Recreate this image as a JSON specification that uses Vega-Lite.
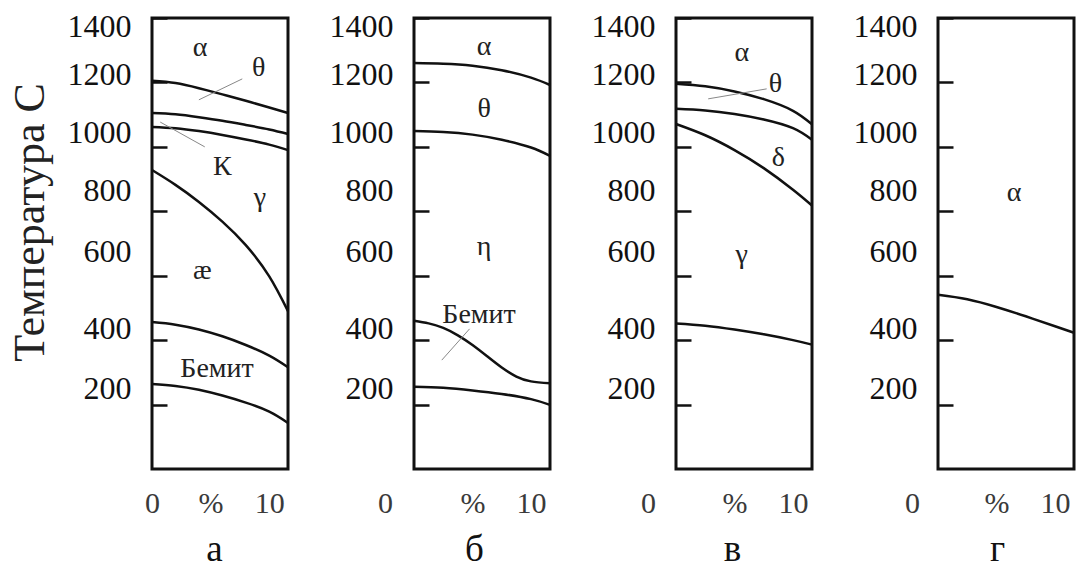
{
  "$schema": "https://vega.github.io/schema/vega-lite/v6.json",
  "background": "white",
  "padding": {"left": 6, "top": 8, "right": 0, "bottom": 0},
  "bounds": "flush",
  "spacing": 126,
  "config": {
    "font": "Liberation Serif",
    "view": {"stroke": "#111", "strokeWidth": 3},
    "axisY": {"tickSize": -15, "tickWidth": 2.5, "tickColor": "#111", "domain": false, "grid": false, "labelFontSize": 32, "labelColor": "#111", "labelPadding": 36, "format": "d", "titleFontSize": 44, "titleFontWeight": "normal", "titleColor": "#222"},
    "axisX": {"ticks": false, "domain": false, "grid": false, "labelFontSize": 30, "labelColor": "#3a3a3a", "labelPadding": 19, "labelFlush": false, "titleFontSize": 37, "titleFontWeight": "normal", "titleBaseline": "alphabetic", "titleY": 91, "titleColor": "#111"}
  },
  "datasets": {
    "lines": [
      {"p":"а","id":1,"x":0,"t":1205},{"p":"а","id":1,"x":2,"t":1198},{"p":"а","id":1,"x":4,"t":1182},{"p":"а","id":1,"x":6,"t":1163},{"p":"а","id":1,"x":8,"t":1143},{"p":"а","id":1,"x":10,"t":1122},{"p":"а","id":1,"x":11.6,"t":1105},
      {"p":"а","id":2,"x":0,"t":1105},{"p":"а","id":2,"x":2,"t":1101},{"p":"а","id":2,"x":4,"t":1092},{"p":"а","id":2,"x":6,"t":1081},{"p":"а","id":2,"x":8,"t":1068},{"p":"а","id":2,"x":10,"t":1054},{"p":"а","id":2,"x":11.6,"t":1040},
      {"p":"а","id":3,"x":0,"t":1062},{"p":"а","id":3,"x":2,"t":1058},{"p":"а","id":3,"x":4,"t":1049},{"p":"а","id":3,"x":6,"t":1037},{"p":"а","id":3,"x":8,"t":1023},{"p":"а","id":3,"x":10,"t":1007},{"p":"а","id":3,"x":11.6,"t":990},
      {"p":"а","id":4,"x":0,"t":928},{"p":"а","id":4,"x":2,"t":882},{"p":"а","id":4,"x":4,"t":829},{"p":"а","id":4,"x":6,"t":768},{"p":"а","id":4,"x":8,"t":695},{"p":"а","id":4,"x":10,"t":598},{"p":"а","id":4,"x":11.6,"t":490},
      {"p":"а","id":5,"x":0,"t":456},{"p":"а","id":5,"x":2,"t":448},{"p":"а","id":5,"x":4,"t":433},{"p":"а","id":5,"x":6,"t":412},{"p":"а","id":5,"x":8,"t":385},{"p":"а","id":5,"x":10,"t":352},{"p":"а","id":5,"x":11.6,"t":316},
      {"p":"а","id":6,"x":0,"t":264},{"p":"а","id":6,"x":2,"t":258},{"p":"а","id":6,"x":4,"t":246},{"p":"а","id":6,"x":6,"t":228},{"p":"а","id":6,"x":8,"t":206},{"p":"а","id":6,"x":10,"t":178},{"p":"а","id":6,"x":11.6,"t":143},
      {"p":"б","id":1,"x":2,"t":1260},{"p":"б","id":1,"x":4,"t":1258},{"p":"б","id":1,"x":6,"t":1252},{"p":"б","id":1,"x":8,"t":1238},{"p":"б","id":1,"x":10,"t":1215},{"p":"б","id":1,"x":11.3,"t":1192},
      {"p":"б","id":2,"x":2,"t":1049},{"p":"б","id":2,"x":4,"t":1046},{"p":"б","id":2,"x":6,"t":1038},{"p":"б","id":2,"x":8,"t":1022},{"p":"б","id":2,"x":10,"t":998},{"p":"б","id":2,"x":11.3,"t":972},
      {"p":"б","id":3,"x":2,"t":460},{"p":"б","id":3,"x":3,"t":452},{"p":"б","id":3,"x":4,"t":438},{"p":"б","id":3,"x":5,"t":415},{"p":"б","id":3,"x":6,"t":385},{"p":"б","id":3,"x":7,"t":350},{"p":"б","id":3,"x":8,"t":315},{"p":"б","id":3,"x":9,"t":287},{"p":"б","id":3,"x":10,"t":272},{"p":"б","id":3,"x":11.3,"t":266},
      {"p":"б","id":4,"x":2,"t":255},{"p":"б","id":4,"x":4,"t":252},{"p":"б","id":4,"x":6,"t":244},{"p":"б","id":4,"x":8,"t":233},{"p":"б","id":4,"x":10,"t":217},{"p":"б","id":4,"x":11.3,"t":199},
      {"p":"в","id":1,"x":2,"t":1196},{"p":"в","id":1,"x":4,"t":1188},{"p":"в","id":1,"x":6,"t":1172},{"p":"в","id":1,"x":8,"t":1148},{"p":"в","id":1,"x":10,"t":1112},{"p":"в","id":1,"x":11.3,"t":1070},
      {"p":"в","id":2,"x":2,"t":1118},{"p":"в","id":2,"x":4,"t":1113},{"p":"в","id":2,"x":6,"t":1102},{"p":"в","id":2,"x":8,"t":1085},{"p":"в","id":2,"x":10,"t":1058},{"p":"в","id":2,"x":11.3,"t":1022},
      {"p":"в","id":3,"x":2,"t":1071},{"p":"в","id":3,"x":4,"t":1036},{"p":"в","id":3,"x":6,"t":990},{"p":"в","id":3,"x":8,"t":934},{"p":"в","id":3,"x":10,"t":867},{"p":"в","id":3,"x":11.3,"t":818},
      {"p":"в","id":4,"x":2,"t":452},{"p":"в","id":4,"x":4,"t":445},{"p":"в","id":4,"x":6,"t":433},{"p":"в","id":4,"x":8,"t":418},{"p":"в","id":4,"x":10,"t":400},{"p":"в","id":4,"x":11.3,"t":386},
      {"p":"г","id":1,"x":2,"t":541},{"p":"г","id":1,"x":4,"t":527},{"p":"г","id":1,"x":6,"t":503},{"p":"г","id":1,"x":8,"t":474},{"p":"г","id":1,"x":10,"t":443},{"p":"г","id":1,"x":11.3,"t":423}
    ],
    "labels": [
      {"p":"а","x":4.1,"t":1307,"label":"α"},
      {"p":"а","x":9.1,"t":1245,"label":"θ"},
      {"p":"а","x":6.0,"t":938,"label":"К"},
      {"p":"а","x":9.2,"t":841,"label":"γ"},
      {"p":"а","x":4.3,"t":615,"label":"æ"},
      {"p":"а","x":5.55,"t":310,"label":"Бемит"},
      {"p":"б","x":6.8,"t":1310,"label":"α"},
      {"p":"б","x":6.8,"t":1118,"label":"θ"},
      {"p":"б","x":6.8,"t":689,"label":"η"},
      {"p":"б","x":6.45,"t":478,"label":"Бемит"},
      {"p":"в","x":6.5,"t":1292,"label":"α"},
      {"p":"в","x":8.8,"t":1195,"label":"θ"},
      {"p":"в","x":9.0,"t":966,"label":"δ"},
      {"p":"в","x":6.5,"t":664,"label":"γ"},
      {"p":"г","x":7.2,"t":857,"label":"α"}
    ],
    "leaders": [
      {"p":"а","x":7.7,"t":1211,"x2":4.0,"t2":1146},
      {"p":"а","x":0.7,"t":1077,"x2":4.5,"t2":1000},
      {"p":"б","x":5.8,"t":435,"x2":3.9,"t2":338},
      {"p":"в","x":8.2,"t":1180,"x2":4.2,"t2":1149}
    ]
  },
  "hconcat": [
    {
      "width": 136, "height": 451,
      "layer": [
        {"data": {"name": "lines"}, "transform": [{"filter": "datum.p == 'а'"}],
         "mark": {"type": "line", "color": "#111", "strokeWidth": 2.5, "interpolate": "natural"},
         "encoding": {
           "x": {"field": "x", "type": "quantitative", "scale": {"domain": [0, 11.6], "nice": false, "zero": false},
                 "axis": {"title": "а", "titleX": 62, "values": [0, 5, 10], "labelExpr": "datum.value == 5 ? '%' : datum.label"}},
           "y": {"field": "t", "type": "quantitative", "scale": {"domain": [0, 1400], "nice": false},
                 "axis": {"title": "Температура С", "titleX": -100, "titleY": 204, "titleBaseline": "bottom", "values": [200, 400, 600, 800, 1000, 1200, 1400],
                          "labelOffset": {"expr": "datum.value==1400?8:datum.value==1200?-8:datum.value==1000?-14:datum.value==800?-21:datum.value==600?-24:datum.value==400?-12:-16"}}},
           "detail": {"field": "id"}}},
        {"data": {"name": "leaders"}, "transform": [{"filter": "datum.p == 'а'"}],
         "mark": {"type": "rule", "color": "#888", "strokeWidth": 1},
         "encoding": {"x": {"field": "x", "type": "quantitative"}, "y": {"field": "t", "type": "quantitative"}, "x2": {"field": "x2"}, "y2": {"field": "t2"}}},
        {"data": {"name": "labels"}, "transform": [{"filter": "datum.p == 'а'"}],
         "mark": {"type": "text", "fontSize": 28, "color": "#222"},
         "encoding": {"x": {"field": "x", "type": "quantitative"}, "y": {"field": "t", "type": "quantitative"}, "text": {"field": "label"}}}
      ]
    },
    {
      "width": 136, "height": 451,
      "layer": [
        {"data": {"name": "lines"}, "transform": [{"filter": "datum.p == 'б'"}],
         "mark": {"type": "line", "color": "#111", "strokeWidth": 2.5, "interpolate": "natural"},
         "encoding": {
           "x": {"field": "x", "type": "quantitative", "scale": {"domain": [2, 11.3], "nice": false, "zero": false},
                 "axis": {"title": "б", "titleX": 60, "values": [2, 6, 10], "labelExpr": "datum.value == 2 ? '0' : datum.value == 6 ? '%' : datum.label",
                          "labelOffset": {"expr": "datum.value == 2 ? -29 : 0"}}},
           "y": {"field": "t", "type": "quantitative", "scale": {"domain": [0, 1400], "nice": false},
                 "axis": {"title": null, "values": [200, 400, 600, 800, 1000, 1200, 1400],
                          "labelOffset": {"expr": "datum.value==1400?8:datum.value==1200?-8:datum.value==1000?-14:datum.value==800?-21:datum.value==600?-24:datum.value==400?-12:-16"}}},
           "detail": {"field": "id"}}},
        {"data": {"name": "leaders"}, "transform": [{"filter": "datum.p == 'б'"}],
         "mark": {"type": "rule", "color": "#888", "strokeWidth": 1},
         "encoding": {"x": {"field": "x", "type": "quantitative"}, "y": {"field": "t", "type": "quantitative"}, "x2": {"field": "x2"}, "y2": {"field": "t2"}}},
        {"data": {"name": "labels"}, "transform": [{"filter": "datum.p == 'б'"}],
         "mark": {"type": "text", "fontSize": 28, "color": "#222"},
         "encoding": {"x": {"field": "x", "type": "quantitative"}, "y": {"field": "t", "type": "quantitative"}, "text": {"field": "label"}}}
      ]
    },
    {
      "width": 136, "height": 451,
      "layer": [
        {"data": {"name": "lines"}, "transform": [{"filter": "datum.p == 'в'"}],
         "mark": {"type": "line", "color": "#111", "strokeWidth": 2.5, "interpolate": "natural"},
         "encoding": {
           "x": {"field": "x", "type": "quantitative", "scale": {"domain": [2, 11.3], "nice": false, "zero": false},
                 "axis": {"title": "в", "titleX": 56, "values": [2, 6, 10], "labelExpr": "datum.value == 2 ? '0' : datum.value == 6 ? '%' : datum.label",
                          "labelOffset": {"expr": "datum.value == 2 ? -28 : 0"}}},
           "y": {"field": "t", "type": "quantitative", "scale": {"domain": [0, 1400], "nice": false},
                 "axis": {"title": null, "values": [200, 400, 600, 800, 1000, 1200, 1400],
                          "labelOffset": {"expr": "datum.value==1400?8:datum.value==1200?-8:datum.value==1000?-14:datum.value==800?-21:datum.value==600?-24:datum.value==400?-12:-16"}}},
           "detail": {"field": "id"}}},
        {"data": {"name": "leaders"}, "transform": [{"filter": "datum.p == 'в'"}],
         "mark": {"type": "rule", "color": "#888", "strokeWidth": 1},
         "encoding": {"x": {"field": "x", "type": "quantitative"}, "y": {"field": "t", "type": "quantitative"}, "x2": {"field": "x2"}, "y2": {"field": "t2"}}},
        {"data": {"name": "labels"}, "transform": [{"filter": "datum.p == 'в'"}],
         "mark": {"type": "text", "fontSize": 28, "color": "#222"},
         "encoding": {"x": {"field": "x", "type": "quantitative"}, "y": {"field": "t", "type": "quantitative"}, "text": {"field": "label"}}}
      ]
    },
    {
      "width": 136, "height": 451,
      "layer": [
        {"data": {"name": "lines"}, "transform": [{"filter": "datum.p == 'г'"}],
         "mark": {"type": "line", "color": "#111", "strokeWidth": 2.5, "interpolate": "natural"},
         "encoding": {
           "x": {"field": "x", "type": "quantitative", "scale": {"domain": [2, 11.3], "nice": false, "zero": false},
                 "axis": {"title": "г", "titleX": 59, "values": [2, 6, 10], "labelExpr": "datum.value == 2 ? '0' : datum.value == 6 ? '%' : datum.label",
                          "labelOffset": {"expr": "datum.value == 2 ? -26 : 0"}}},
           "y": {"field": "t", "type": "quantitative", "scale": {"domain": [0, 1400], "nice": false},
                 "axis": {"title": null, "values": [200, 400, 600, 800, 1000, 1200, 1400],
                          "labelOffset": {"expr": "datum.value==1400?8:datum.value==1200?-8:datum.value==1000?-14:datum.value==800?-21:datum.value==600?-24:datum.value==400?-12:-16"}}},
           "detail": {"field": "id"}}},
        {"data": {"name": "labels"}, "transform": [{"filter": "datum.p == 'г'"}],
         "mark": {"type": "text", "fontSize": 28, "color": "#222"},
         "encoding": {"x": {"field": "x", "type": "quantitative"}, "y": {"field": "t", "type": "quantitative"}, "text": {"field": "label"}}}
      ]
    }
  ]
}
